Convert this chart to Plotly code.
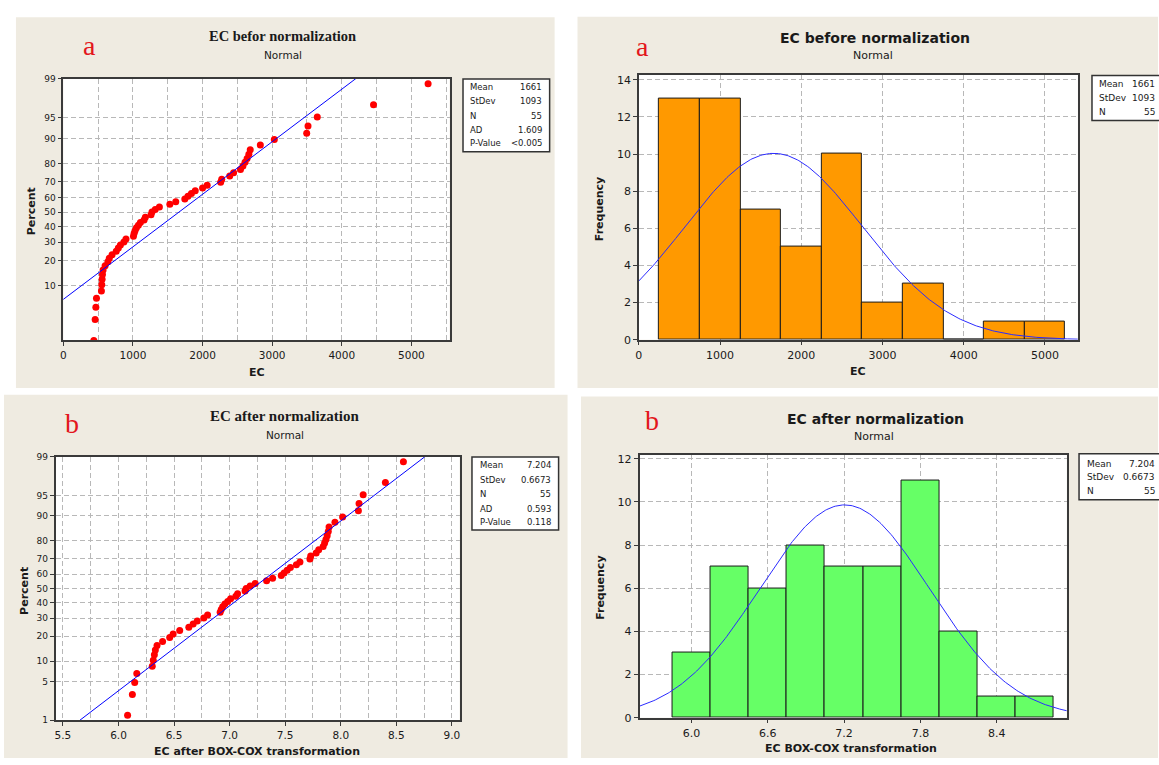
import numpy as np
import plotly.graph_objects as go
from statistics import NormalDist

W, H = 1159, 765
def X(px): return px / W
def Y(py): return 1 - py / H

# ---------------- data ----------------
ec_values = [438, 457, 467, 476, 547, 552, 557, 562, 571, 600, 640, 660, 700,
             760, 790, 820, 870, 900, 1007, 1017, 1031, 1050, 1078, 1107,
             1160, 1178, 1260, 1273, 1320, 1380, 1530, 1615, 1745, 1790, 1840,
             1895, 2000, 2066, 2260, 2275, 2390, 2446, 2545, 2580, 2610, 2640,
             2665, 2685, 2830, 3031, 3496, 3515, 3648, 4456, 5240]
ec_boxcox = [6.082, 6.125, 6.146, 6.165, 6.304, 6.313, 6.323, 6.332, 6.347, 6.397,
             6.461, 6.492, 6.551, 6.633, 6.672, 6.709, 6.768, 6.802, 6.915, 6.925,
             6.938, 6.957, 6.983, 7.009, 7.056, 7.072, 7.139, 7.149, 7.185, 7.230,
             7.333, 7.387, 7.465, 7.490, 7.518, 7.547, 7.601, 7.633, 7.723, 7.730,
             7.779, 7.802, 7.842, 7.855, 7.867, 7.878, 7.888, 7.895, 7.948, 8.017,
             8.159, 8.165, 8.202, 8.402, 8.564]

hist_a_centers = [500, 1000, 1500, 2000, 2500, 3000, 3500, 4000, 4500, 5000]
hist_a_counts = [13, 13, 7, 5, 10, 2, 3, 0, 1, 1]
hist_a_width = 500
hist_b_centers = [6.0, 6.3, 6.6, 6.9, 7.2, 7.5, 7.8, 8.1, 8.4, 8.7]
hist_b_counts = [3, 7, 6, 8, 7, 7, 11, 4, 1, 1]
hist_b_width = 0.3

mean_a, sd_a, n_a = 1661, 1093, 55
mean_b, sd_b, n_b = 7.204, 0.6673, 55

stats_labels_prob = ["Mean", "StDev", "N", "AD", "P-Value"]
stats_a_prob = ["1661", "1093", "55", "1.609", "<0.005"]
stats_b_prob = ["7.204", "0.6673", "55", "0.593", "0.118"]
stats_labels_hist = ["Mean", "StDev", "N"]
stats_a_hist = ["1661", "1093", "55"]
stats_b_hist = ["7.204", "0.6673", "55"]

pct_ticks_a = [10, 20, 30, 40, 50, 60, 70, 80, 90, 95, 99]
pct_ticks_b = [1, 5, 10, 20, 30, 40, 50, 60, 70, 80, 90, 95, 99]

nd = NormalDist()
def zpos(n):
    return [nd.inv_cdf((i - 0.3) / (n + 0.4)) for i in range(1, n + 1)]

# ---------------- geometry ----------------
panels = [(12, 12.5, 553, 389), (576, 12, 1159, 389),
          (0, 396, 566, 765), (579.5, 397.7, 1159, 765)]
plots = [(59.6, 74.7, 447.6, 340.7), (637.6, 70.7, 1078.5, 340),
         (51.8, 459, 457.6, 726.7), (638.3, 456.7, 1067.4, 724)]

fig = go.Figure()

# panel 1: probability plot before
za = zpos(len(ec_values))
fig.add_trace(go.Scatter(x=sorted(ec_values), y=za, mode="markers",
                         marker=dict(color="#FF0000", size=7), xaxis="x", yaxis="y"))
zr_a = [-2.234, 2.326]
fig.add_trace(go.Scatter(x=[mean_a + sd_a * zr_a[0], mean_a + sd_a * zr_a[1]], y=zr_a,
                         mode="lines", line=dict(color="#0000FF", width=1),
                         xaxis="x", yaxis="y"))

# panel 2: histogram before
fig.add_trace(go.Bar(x=hist_a_centers, y=hist_a_counts, width=hist_a_width,
                     marker=dict(color="#FF9900", line=dict(color="#1a1a1a", width=1)),
                     xaxis="x2", yaxis="y2"))
xs = np.linspace(0, 5406, 300)
ys = n_a * hist_a_width * np.exp(-0.5 * ((xs - mean_a) / sd_a) ** 2) / (sd_a * np.sqrt(2 * np.pi))
fig.add_trace(go.Scatter(x=xs, y=ys, mode="lines", line=dict(color="#2B2BFF", width=1),
                         xaxis="x2", yaxis="y2"))

# panel 3: probability plot after
zb = zpos(len(ec_boxcox))
fig.add_trace(go.Scatter(x=sorted(ec_boxcox), y=zb, mode="markers",
                         marker=dict(color="#FF0000", size=7), xaxis="x3", yaxis="y3"))
zr_b = [-2.326, 2.326]
fig.add_trace(go.Scatter(x=[mean_b + sd_b * zr_b[0], mean_b + sd_b * zr_b[1]], y=zr_b,
                         mode="lines", line=dict(color="#0000FF", width=1),
                         xaxis="x3", yaxis="y3"))

# panel 4: histogram after
fig.add_trace(go.Bar(x=hist_b_centers, y=hist_b_counts, width=hist_b_width,
                     marker=dict(color="#66FF66", line=dict(color="#1a1a1a", width=1)),
                     xaxis="x4", yaxis="y4"))
xs = np.linspace(5.592, 8.951, 300)
ys = n_b * hist_b_width * np.exp(-0.5 * ((xs - mean_b) / sd_b) ** 2) / (sd_b * np.sqrt(2 * np.pi))
fig.add_trace(go.Scatter(x=xs, y=ys, mode="lines", line=dict(color="#2B2BFF", width=1),
                         xaxis="x4", yaxis="y4"))

# ---------------- axes ----------------
grid = dict(gridcolor="#B8B8B8", griddash="5px,3px", gridwidth=1)
def ax(**kw):
    d = dict(showline=True, mirror=True, linecolor="#3a3a3a", linewidth=1.5,
             ticks="outside", ticklen=4, tickcolor="#3a3a3a", zeroline=False,
             showgrid=True, **grid,
             tickfont=dict(family="DejaVu Sans", size=10.5, color="#1a1a1a"))
    d.update(kw)
    return d

def dom(i):
    x0, y0, x1, y1 = plots[i]
    return [X(x0), X(x1)], [Y(y1), Y(y0)]

dx, dy = dom(0)
xa1 = ax(domain=dx, anchor="y", range=[0, 5550], tickvals=[0, 1000, 2000, 3000, 4000, 5000],
         minor=dict(dtick=500, tick0=0, showgrid=True, ticks="", **grid))
ya1 = ax(domain=dy, anchor="x", range=zr_a,
         tickvals=[nd.inv_cdf(p / 100) for p in pct_ticks_a], ticktext=[str(p) for p in pct_ticks_a],
         tickfont=dict(family="DejaVu Sans", size=9, color="#1a1a1a"))
dx, dy = dom(1)
xa2 = ax(domain=dx, anchor="y2", range=[0, 5406], tickvals=[0, 1000, 2000, 3000, 4000, 5000],
         tickfont=dict(family="DejaVu Sans", size=11, color="#1a1a1a"))
ya2 = ax(domain=dy, anchor="x2", range=[0, 14.28], tickvals=[0, 2, 4, 6, 8, 10, 12, 14],
         tickfont=dict(family="DejaVu Sans", size=11, color="#1a1a1a"))
dx, dy = dom(2)
xa3 = ax(domain=dx, anchor="y3", range=[5.434, 9.07], tick0=5.5, dtick=0.5, tickformat=".1f",
         minor=dict(dtick=0.25, tick0=5.5, showgrid=True, ticks="", **grid))
ya3 = ax(domain=dy, anchor="x3", range=zr_b,
         tickvals=[nd.inv_cdf(p / 100) for p in pct_ticks_b], ticktext=[str(p) for p in pct_ticks_b],
         tickfont=dict(family="DejaVu Sans", size=9, color="#1a1a1a"))
dx, dy = dom(3)
xa4 = ax(domain=dx, anchor="y4", range=[5.592, 8.951], tickvals=[6.0, 6.6, 7.2, 7.8, 8.4],
         ticktext=["6.0", "6.6", "7.2", "7.8", "8.4"],
         tickfont=dict(family="DejaVu Sans", size=11, color="#1a1a1a"))
ya4 = ax(domain=dy, anchor="x4", range=[0, 12.2], tickvals=[0, 2, 4, 6, 8, 10, 12],
         tickfont=dict(family="DejaVu Sans", size=11, color="#1a1a1a"))

# ---------------- shapes ----------------
shapes = []
for (x0, y0, x1, y1) in panels:
    shapes.append(dict(type="rect", xref="paper", yref="paper", x0=X(x0), x1=X(x1),
                       y0=Y(y1), y1=Y(y0), fillcolor="#EFEBE1", line=dict(width=0), layer="below"))
for (x0, y0, x1, y1) in plots:
    shapes.append(dict(type="rect", xref="paper", yref="paper", x0=X(x0), x1=X(x1),
                       y0=Y(y1), y1=Y(y0), fillcolor="white", line=dict(width=0), layer="below"))

boxes = [
    ((461, 75.3, 548, 149), [83.3, 97.7, 112.3, 126.7, 140.7], 466.5, 542, stats_labels_prob, stats_a_prob, 8.5),
    ((1092.7, 71.7, 1165, 117.3), [80.7, 94.3, 108.3], 1098, 1158, stats_labels_hist, stats_a_hist, 9),
    ((470, 459.3, 557, 533.3), [467.7, 482.3, 497, 511.7, 525.7], 476, 551, stats_labels_prob, stats_b_prob, 8.5),
    ((1079.7, 456, 1165, 502.7), [466, 479.7, 493.3], 1086, 1158, stats_labels_hist, stats_b_hist, 9),
]
annotations = []
for (x0, y0, x1, y1), rows, lx, rx, labs, vals, fs in boxes:
    shapes.append(dict(type="rect", xref="paper", yref="paper", x0=X(x0), x1=X(x1),
                       y0=Y(y1), y1=Y(y0), fillcolor="white",
                       line=dict(color="#333333", width=1.5), layer="above"))
    for ry, lab, val in zip(rows, labs, vals):
        annotations.append(dict(x=X(lx), y=Y(ry), text=lab, xanchor="left", yanchor="middle",
                                font=dict(family="DejaVu Sans", size=fs, color="#1a1a1a")))
        annotations.append(dict(x=X(rx), y=Y(ry), text=val, xanchor="right", yanchor="middle",
                                font=dict(family="DejaVu Sans", size=fs, color="#1a1a1a")))

def txt(x, y, t, fam="DejaVu Sans", size=11, bold=False, color="#1a1a1a", angle=0):
    annotations.append(dict(x=X(x), y=Y(y), text=("<b>%s</b>" % t) if bold else t,
                            xanchor="center", yanchor="middle", textangle=angle,
                            font=dict(family=fam, size=size, color=color)))

# titles
txt(280, 32, "EC befor normalization", fam="Liberation Serif", size=14.5, bold=True)
txt(280, 51, "Normal", size=10.5)
txt(874.8, 33.5, "EC before normalization", size=14, bold=True)
txt(873, 51.5, "Normal", size=11)
txt(282, 417.7, "EC after normalization", fam="Liberation Serif", size=15, bold=True)
txt(282, 436.7, "Normal", size=10.5)
txt(874.8, 421, "EC after normalization", size=14, bold=True)
txt(874, 438.3, "Normal", size=11)
# panel letters
red = "#E3161C"
txt(86, 41, "a", fam="Liberation Serif", size=28, color=red)
txt(641, 42, "a", fam="Liberation Serif", size=28, color=red)
txt(68.4, 425, "b", fam="Liberation Serif", size=28, color=red)
txt(651, 422, "b", fam="Liberation Serif", size=28, color=red)
# axis titles
txt(253.6, 373, "EC", size=11, bold=True)
txt(27.7, 210, "Percent", size=11, bold=True, angle=-90)
txt(858, 372, "EC", size=11, bold=True)
txt(598, 207, "Frequency", size=11, bold=True, angle=-90)
txt(254.5, 758, "EC after BOX-COX transformation", size=11, bold=True)
txt(20.3, 595, "Percent", size=11, bold=True, angle=-90)
txt(850.6, 755, "EC BOX-COX transformation", size=11, bold=True)
txt(599, 591.7, "Frequency", size=11, bold=True, angle=-90)

for a in annotations:
    a.update(xref="paper", yref="paper", showarrow=False)

fig.update_layout(
    width=W, height=H, margin=dict(l=0, r=0, t=0, b=0),
    paper_bgcolor="white", plot_bgcolor="white", showlegend=False,
    bargap=0,
    xaxis=xa1, yaxis=ya1, xaxis2=xa2, yaxis2=ya2,
    xaxis3=xa3, yaxis3=ya3, xaxis4=xa4, yaxis4=ya4,
    shapes=shapes, annotations=annotations,
)

fig.write_html("out.html")
